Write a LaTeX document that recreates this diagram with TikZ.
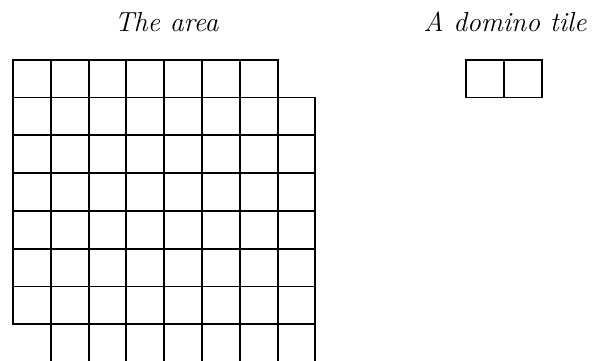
\documentclass[tikz,border=0pt]{standalone}
\begin{document}
\begin{tikzpicture}[x=0.75pt,y=-0.75pt,
  cellbox/.style={draw=black,line width=1.4pt},
  titletext/.style={anchor=base,inner sep=0pt,font=\fontsize{20.7}{24}\selectfont\itshape}]
\clip (0,0) rectangle (595,360);
\def\cs{37.8}
% title labels
\node[titletext] (areatitle) at (166.5,31.7) {The area};
\node[titletext] (dominotitle) at (505,31.7) {A domino tile};
% the area: 8x8 with top-right and bottom-left cells missing
\foreach \r in {0,...,7}{
  \foreach \c in {0,...,7}{
    \pgfmathtruncatemacro{\skip}{(\r==0 && \c==7) || (\r==7 && \c==0)}
    \ifnum\skip=0
      \draw[cellbox] ({13+\c*\cs},{59.7+\r*\cs}) rectangle ({13+(\c+1)*\cs},{59.7+(\r+1)*\cs});
    \fi
  }
}
% domino tile
\draw[cellbox] (466,59.7) rectangle ({466+\cs},{59.7+\cs});
\draw[cellbox] ({466+\cs},59.7) rectangle ({466+2*\cs},{59.7+\cs});
\end{tikzpicture}
\end{document}
